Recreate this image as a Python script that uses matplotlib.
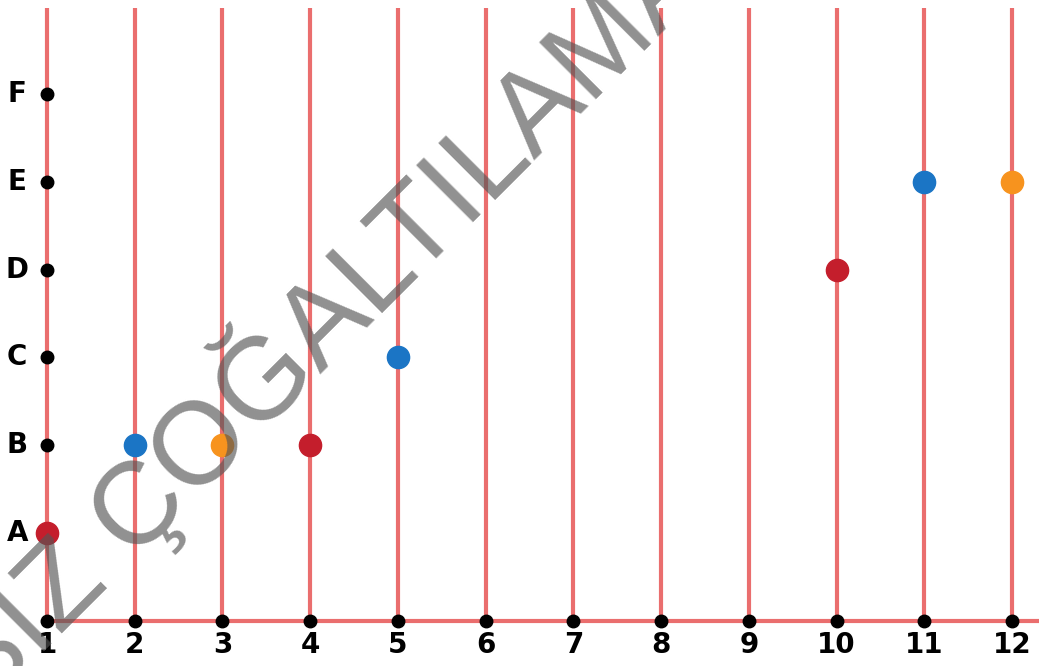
import matplotlib.pyplot as plt

# data
x_values = list(range(1, 13))
x_labels = [str(v) for v in x_values]
y_labels = ["A", "B", "C", "D", "E", "F"]
y_values = [1, 2, 3, 4, 5, 6]

pt_x = [1, 2, 3, 4, 5, 10, 11, 12]
pt_y = ["A", "B", "B", "B", "C", "D", "E", "E"]
pt_color = ["#c41e2c", "#1b75c5", "#f7931e", "#c41e2c", "#1b75c5", "#c41e2c", "#1b75c5", "#f7931e"]

watermark = "İZİNSİZ ÇOĞALTILAMAZ"

line_red = "#ea6e6e"
label_font = dict(family="DejaVu Sans", fontweight="heavy", fontsize=20, color="black")

fig = plt.figure(figsize=(10.39, 6.66), dpi=100)
ax = fig.add_axes([0, 0, 1, 1])
ax.set_xlim(0.464, 12.308)
ax.set_ylim(-0.513, 7.07)
ax.axis("off")

top = 6.98
ax.vlines(x_values, 0, top, color=line_red, lw=3, zorder=1)
ax.hlines(0, x_values[0], 12.308, color=line_red, lw=3, zorder=1)

# axis dots
ax.plot(x_values, [0] * len(x_values), "o", color="black", ms=9, zorder=3)
ax.plot([1] * len(y_values), y_values, "o", color="black", ms=9, zorder=3)

for xv, lab in zip(x_values, x_labels):
    ax.text(xv, -0.27, lab, ha="center", va="center", **label_font)
for yv, lab in zip(y_values, y_labels):
    ax.text(0.66, yv, lab, ha="center", va="center", **label_font)

ymap = {lab: v for lab, v in zip(y_labels, y_values)}
for xv, yl, c in zip(pt_x, pt_y, pt_color):
    ax.plot(xv, ymap[yl], "o", color=c, ms=16, zorder=4)

fig.text(0.258, 0.44, watermark, rotation=45, rotation_mode="anchor",
         ha="center", va="center", fontsize=84, family="Liberation Sans",
         color="#555555", alpha=0.65, zorder=10)

fig.savefig("out.png", dpi=100)
